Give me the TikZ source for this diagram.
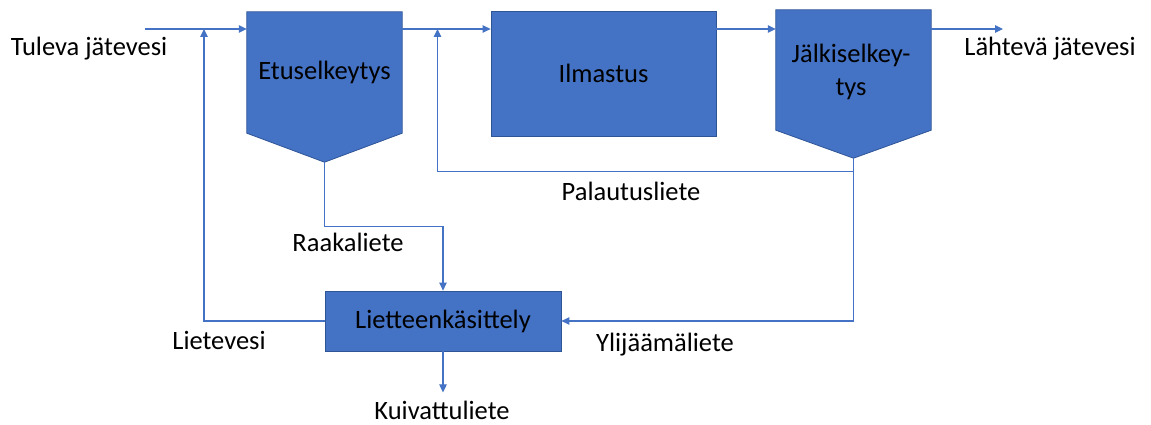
\documentclass[tikz,border=0pt]{standalone}
\usepackage{fontspec}
\setmainfont{Carlito}
\usetikzlibrary{arrows.meta,calc,backgrounds}
\definecolor{unitblue}{HTML}{4472C4}
\definecolor{unitedge}{HTML}{2F5597}
\definecolor{flowblue}{HTML}{4472C4}
\begin{document}
\begin{tikzpicture}[x=1pt,y=-1pt,
  every node/.style={font=\fontsize{26.5}{31}\selectfont, inner sep=0pt},
  unit/.style={fill=unitblue, draw=unitedge, line width=0.8pt},
  unittext/.style={align=center, text=black},
  flow/.style={draw=flowblue, line width=1.1pt,
    -{Triangle[length=8pt,width=7.5pt]}},
  lbl/.style={text=black}]
\useasboundingbox (0,0) rectangle (1151,425);

% main line level and fixed points
\coordinate (main) at (0,29);
\coordinate (in) at (145,29);
\coordinate (out) at (1003,29);
\coordinate (ret) at (437.5,171.5);
\coordinate (lv) at (204,29);

% process units
\node[unittext, minimum width=155pt, minimum height=121pt] (etus) at (324.5,72.5) {Etuselkeytys};
\node[unit, unittext, minimum width=225pt, minimum height=125pt] (ilm) at (603.5,73.5) {Ilmastus};
\node[minimum width=155pt, minimum height=120pt] (jalk) at (853.5,70) {};
\node[unittext, font=\fontsize{26.5}{33}\selectfont] (jalkt) at (851,72) {Jälkiselkey-\\tys};
\node[unit, unittext, minimum width=236pt, minimum height=60pt] (liet) at (443,321) {Lietteenkäsittely};

% settling tanks with a pointed bottom
\coordinate (etip) at ($(etus.south)+(0,29)$);
\coordinate (jtip) at ($(jalk.south)+(0,28)$);
\begin{pgfonlayer}{background}
\path[unit] (etus.north west) -- (etus.north east) -- (etus.south east) -- (etip) -- (etus.south west) -- cycle;
\path[unit] (jalk.north west) -- (jalk.north east) -- (jalk.south east) -- (jtip) -- (jalk.south west) -- cycle;
\end{pgfonlayer}

% water line
\draw[flow] (in) -- (in -| etus.west);
\draw[flow] (etus.east |- main) -- (ilm.west |- main);
\draw[flow] (ilm.east |- main) -- (jalk.west |- main);
\draw[flow] (jalk.east |- main) -- (out);

% sludge lines
\draw[flow] (jtip) |- (ret) -- (ret |- main);
\draw[flow] (jtip |- ret) |- (liet.east);
\draw[flow] (etip) -- ++(0,64) -| (liet.north);
\draw[flow] (liet.west) -| (lv);
\draw[flow] (liet.south) -- ++(0,41);

% labels
\node[lbl] (tulo) at (89,49) {Tuleva jätevesi};
\node[lbl] (lahto) at (1050,49) {Lähtevä jätevesi};
\node[lbl] (palaut) at (631,191) {Palautusliete};
\node[lbl] (raaka) at (348,242) {Raakaliete};
\node[lbl] (lietev) at (219,340) {Lietevesi};
\node[lbl] (ylij) at (665,345) {Ylijäämäliete};
\node[lbl] (kuiv) at (442,410) {Kuivattuliete};
\end{tikzpicture}
\end{document}
